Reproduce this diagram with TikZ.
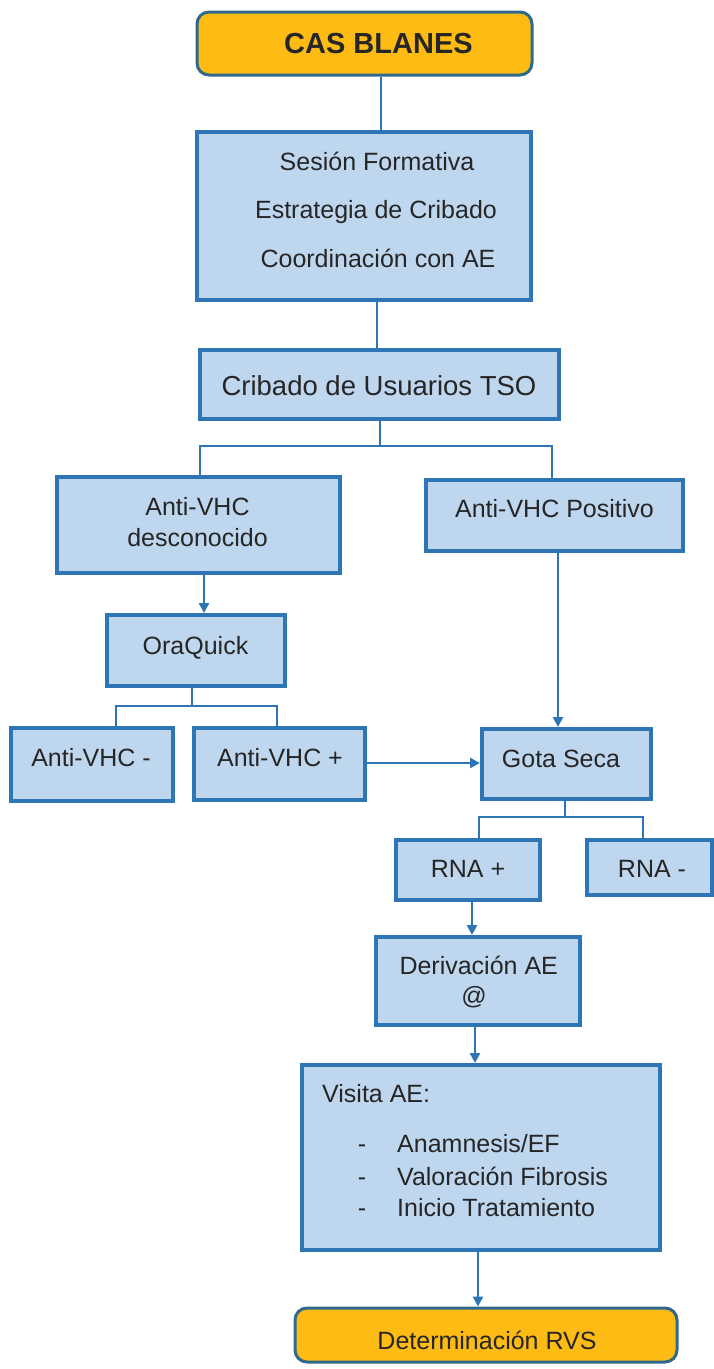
\documentclass[tikz,border=0pt]{standalone}
\usepackage{fontspec}
\setmainfont{Liberation Sans}
\usetikzlibrary{arrows.meta,calc}
\definecolor{boxfill}{RGB}{190,214,238}
\definecolor{boxline}{RGB}{46,117,182}
\definecolor{yel}{RGB}{253,187,19}
\definecolor{yelline}{RGB}{47,105,140}
\definecolor{txt}{RGB}{38,38,38}
\tikzset{
 bluebox/.style={draw=boxline, fill=boxfill, line width=4pt, inner sep=0pt, rectangle},
 yelbox/.style={draw=yelline, fill=yel, line width=3pt, rounded corners=12pt, inner sep=0pt, rectangle},
 lbl/.style={text=txt, font=\fontsize{25}{30}\selectfont, anchor=base, inner sep=0pt},
 conn/.style={draw=boxline, line width=2.5pt},
 arr/.style={conn, -{Triangle[length=10pt,width=10pt]}},
}
\begin{document}
\begin{tikzpicture}[x=1pt,y=-1pt]
\useasboundingbox (0,0) rectangle (714,1369);
% boxes
\node[yelbox, minimum width=335pt, minimum height=63pt] (cas) at (364.5,43.5) {};
\node[bluebox, minimum width=334pt, minimum height=168pt] (ses) at (364,216) {};
\node[bluebox, minimum width=359pt, minimum height=69pt] (crib) at (379.5,384.5) {};
\node[bluebox, minimum width=283pt, minimum height=96pt] (desc) at (198.5,525) {};
\node[bluebox, minimum width=257pt, minimum height=71pt] (pos) at (554.5,515.5) {};
\node[bluebox, minimum width=178pt, minimum height=71pt] (ora) at (196,650.5) {};
\node[bluebox, minimum width=162pt, minimum height=73pt] (neg) at (92,764.5) {};
\node[bluebox, minimum width=171pt, minimum height=72pt] (plus) at (279.5,764) {};
\node[bluebox, minimum width=169pt, minimum height=70pt] (gota) at (566.5,764) {};
\node[bluebox, minimum width=144pt, minimum height=60pt] (rnap) at (468,870) {};
\node[bluebox, minimum width=125pt, minimum height=55pt] (rnan) at (649.5,867.5) {};
\node[bluebox, minimum width=204pt, minimum height=88pt] (deriv) at (478,981) {};
\node[bluebox, minimum width=358pt, minimum height=185pt] (visita) at (481,1157.5) {};
\node[yelbox, minimum width=382pt, minimum height=54pt] (rvs) at (486,1335) {};
% texts
\node[lbl, font=\fontsize{29}{34}\selectfont\bfseries] (tcas) at (378.5,53.5) {CAS BLANES};
\node[lbl] (tses1) at (377,170) {Sesión Formativa};
\node[lbl] (tses2) at (376,218) {Estrategia de Cribado};
\node[lbl] (tses3) at (378,267.5) {Coordinación con AE};
\node[lbl, font=\fontsize{27.5}{32}\selectfont] (tcrib) at (379,395) {Cribado de Usuarios TSO};
\node[lbl] (tdesc1) at (197.5,515) {Anti-VHC};
\node[lbl] (tdesc2) at (197.5,546) {desconocido};
\node[lbl] (tpos) at (554.5,517) {Anti-VHC Positivo};
\node[lbl] (tora) at (195.5,654) {OraQuick};
\node[lbl] (tneg) at (91,766) {Anti-VHC -};
\node[lbl] (tplus) at (280,766) {Anti-VHC +};
\node[lbl] (tgota) at (561,767) {Gota Seca};
\node[lbl] (trnap) at (468,877) {RNA +};
\node[lbl] (trnan) at (652,877) {RNA -};
\node[lbl] (tder1) at (478.7,974) {Derivación AE};
\node[lbl] (tder2) at (474,1004.5) {@};
\node[lbl, anchor=base west] (tvis) at (322,1102) {Visita AE:};
\node[lbl] (tb1) at (362,1152) {-};
\node[lbl] (tb2) at (362,1185) {-};
\node[lbl] (tb3) at (362,1216) {-};
\node[lbl, anchor=base west] (ti1) at (397,1152) {Anamnesis/EF};
\node[lbl, anchor=base west] (ti2) at (397,1185) {Valoración Fibrosis};
\node[lbl, anchor=base west] (ti3) at (397,1216) {Inicio Tratamiento};
\node[lbl] (trvs) at (487,1349) {Determinación RVS};
% helper coordinates
\coordinate (k1) at (381,0);
\coordinate (k2) at (377,0);
\coordinate (k3) at (380,446);
\coordinate (k3l) at (200,446);
\coordinate (k3r) at (552,446);
\coordinate (k4) at (204,0);
\coordinate (k5) at (192,706);
\coordinate (k5l) at (116,706);
\coordinate (k5r) at (277,706);
\coordinate (k6) at (0,763);
\coordinate (k7) at (558,0);
\coordinate (k8) at (565,817);
\coordinate (k8l) at (479,817);
\coordinate (k8r) at (643,817);
\coordinate (k9) at (472,0);
\coordinate (k10) at (475,0);
\coordinate (k11) at (478,0);
% connectors
\draw[conn] (cas.south -| k1) -- (ses.north -| k1);
\draw[conn] (ses.south -| k2) -- (crib.north -| k2);
\draw[conn] (crib.south -| k3) -- (k3);
\draw[conn] (desc.north -| k3l) -- (k3l) -- (k3r) -- (pos.north -| k3r);
\draw[arr] (desc.south -| k4) -- (ora.north -| k4);
\draw[conn] (ora.south -| k5) -- (k5);
\draw[conn] (neg.north -| k5l) -- (k5l) -- (k5r) -- (plus.north -| k5r);
\draw[arr] (plus.east |- k6) -- (gota.west |- k6);
\draw[arr] (pos.south -| k7) -- (gota.north -| k7);
\draw[conn] (gota.south -| k8) -- (k8);
\draw[conn] (rnap.north -| k8l) -- (k8l) -- (k8r) -- (rnan.north -| k8r);
\draw[arr] (rnap.south -| k9) -- (deriv.north -| k9);
\draw[arr] (deriv.south -| k10) -- (visita.north -| k10);
\draw[arr] (visita.south -| k11) -- (rvs.north -| k11);
\end{tikzpicture}
\end{document}
